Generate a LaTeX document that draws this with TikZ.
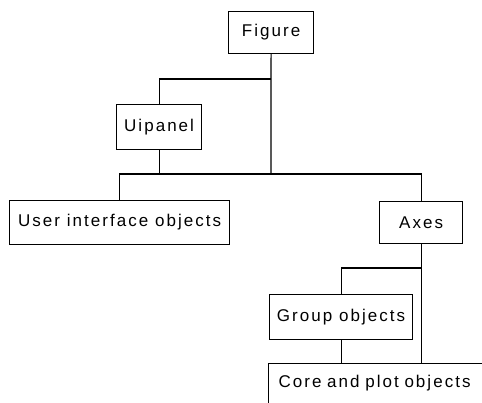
\documentclass[tikz,border=0pt]{standalone}
\usepackage{fontspec}
\setmainfont{Liberation Sans}[LetterSpace=12]
\usetikzlibrary{calc}
\begin{document}
\begin{tikzpicture}[x=1pt,y=-1pt,
  box/.style={draw=black, line width=1.2pt, inner sep=0pt, anchor=north west,
    font=\fontsize{17}{20}\selectfont, text=black},
  conn/.style={draw=black, line width=1.2pt}]
\path[use as bounding box, clip] (0,0) rectangle (482,403);
\fill[white] (0,0) rectangle (482,403);
\node[box, minimum width=85pt, minimum height=42pt] (fig) at (228,11) {Figure};
\node[box, minimum width=85pt, minimum height=45pt] (uip) at (116,104) {Uipanel};
\node[box, minimum width=220pt, minimum height=44pt] (uio) at (9,200) {User interface objects};
\node[box, minimum width=83pt, minimum height=42pt] (axes) at (379,201) {Axes};
\node[box, minimum width=143pt, minimum height=45pt] (grp) at (269,294) {Group objects};
\node[box, minimum width=222pt, minimum height=40pt, align=left, text width=202pt, inner xsep=10pt] (core) at (268,363) {Core and plot objects};
\coordinate (j0) at (271,79);
\coordinate (j1) at (271,174);
\coordinate (j2) at (421,268);
\draw[conn] (fig.south) -- (j1);
\draw[conn] (j0) -| (uip.north);
\draw[conn] (uip.south) -- (uip.south |- j1);
\draw[conn] (uio.north) -- (uio.north |- j1) -- (axes.north |- j1) -- (axes.north);
\draw[conn] (axes.south) -- (axes.south |- core.north);
\draw[conn] (j2) -| (grp.north);
\draw[conn] (grp.south) -- (grp.south |- core.north);
\end{tikzpicture}
\end{document}
